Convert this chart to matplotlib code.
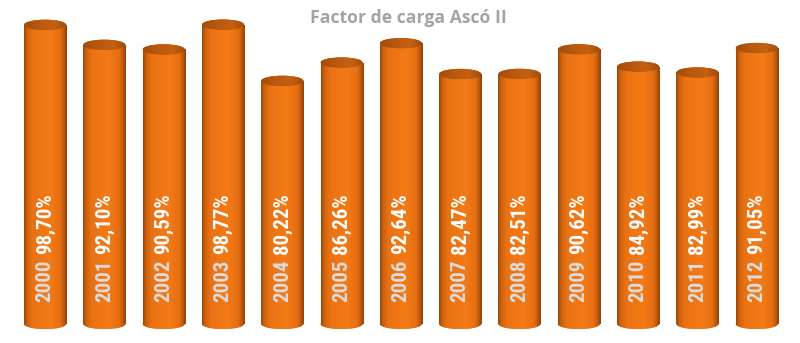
import numpy as np
import matplotlib
matplotlib.use('Agg')
import matplotlib.pyplot as plt
from matplotlib import font_manager
from matplotlib.colors import LinearSegmentedColormap
from matplotlib.patches import Ellipse

title = 'Factor de carga Ascó II'
years = ['2000', '2001', '2002', '2003', '2004', '2005', '2006',
         '2007', '2008', '2009', '2010', '2011', '2012']
values = [98.70, 92.10, 90.59, 98.77, 80.22, 86.26, 92.64,
          82.47, 82.51, 90.62, 84.92, 82.99, 91.05]
labels = ['98,70%', '92,10%', '90,59%', '98,77%', '80,22%', '86,26%', '92,64%',
          '82,47%', '82,51%', '90,62%', '84,92%', '82,99%', '91,05%']

installed = {f.name for f in font_manager.fontManager.ttflist}
label_fam = [f for f in ['Roboto Condensed', 'Liberation Sans Narrow', 'Open Sans Condensed',
                         'Roboto'] if f in installed] + ['DejaVu Sans']
title_fam = [f for f in ['Open Sans', 'Lato', 'Roboto'] if f in installed] + ['DejaVu Sans']

fig = plt.figure(figsize=(8, 3.43), dpi=100)
ax = fig.add_axes([0, 0, 1, 1])
ax.axis('off')

body_cmap = LinearSegmentedColormap.from_list('body', [
    (0.0, '#9a4608'), (0.07, '#c9610e'), (0.2, '#ea7213'), (0.6, '#f47a16'),
    (0.84, '#e66f12'), (0.94, '#b8560c'), (1.0, '#8e3f07')])
top_cmap = LinearSegmentedColormap.from_list('top', [
    (0.0, '#a24c0a'), (0.35, '#b9580f'), (0.7, '#c46012'), (1.0, '#a04a0a')])
grad = np.linspace(0, 1, 256).reshape(1, -1)

w = 0.71
eh = 3.4
xs = np.arange(len(years))
bars = ax.bar(xs, values, width=w, color='#e8700f', zorder=2, linewidth=0)
year_texts = []
pct_texts = []
for x, v, bar, yr, lab in zip(xs, values, bars, years, labels):
    im = ax.imshow(grad, cmap=body_cmap, extent=(x - w / 2, x + w / 2, 0, v),
                   aspect='auto', zorder=3, interpolation='bilinear')
    im.set_clip_path(bar)
    bot = Ellipse((x, 0), w, eh, facecolor='#e8700f', lw=0, zorder=2)
    ax.add_patch(bot)
    im2 = ax.imshow(grad, cmap=body_cmap, extent=(x - w / 2, x + w / 2, -eh / 2, 0),
                    aspect='auto', zorder=3, interpolation='bilinear')
    im2.set_clip_path(bot)
    top = Ellipse((x, v), w, eh, facecolor='#b4550e', lw=0, zorder=4)
    ax.add_patch(top)
    im3 = ax.imshow(grad, cmap=top_cmap, extent=(x - w / 2, x + w / 2, v - eh / 2, v + eh / 2),
                    aspect='auto', zorder=5, interpolation='bilinear')
    im3.set_clip_path(top)

    t = ax.text(x, 7.3, yr, rotation=90, ha='center', va='bottom', color='#dcdcdc',
                fontsize=15, fontweight='bold', family=label_fam, zorder=6)
    p = ax.annotate(lab, xy=(0.5, 1), xycoords=t, xytext=(0, 4), textcoords='offset points',
                    rotation=90, ha='center', va='bottom', color='white',
                    fontsize=15, fontweight='bold', family=label_fam, zorder=6)
    year_texts.append(t)
    pct_texts.append(p)

ax.set_xlim(-0.76, 12.73)
ax.set_ylim(-6.3, 106.9)

tt = fig.text(0.511, 1 - 23 / 343, title, ha='center', va='baseline', color='#a3a3a3',
              fontsize=13, fontweight='bold', family=title_fam)

# fit text sizes to the reference extents
fig.canvas.draw()
r = fig.canvas.get_renderer()
tw = tt.get_window_extent(r).width
tt.set_fontsize(13 * 195 / tw)
b1 = year_texts[0].get_window_extent(r)
b2 = pct_texts[0].get_window_extent(r)
span = b2.y1 - b1.y0
fs = 15 * 109 / span
for t, p in zip(year_texts, pct_texts):
    t.set_fontsize(fs)
    p.set_fontsize(fs)

fig.savefig('out.png', dpi=100)
